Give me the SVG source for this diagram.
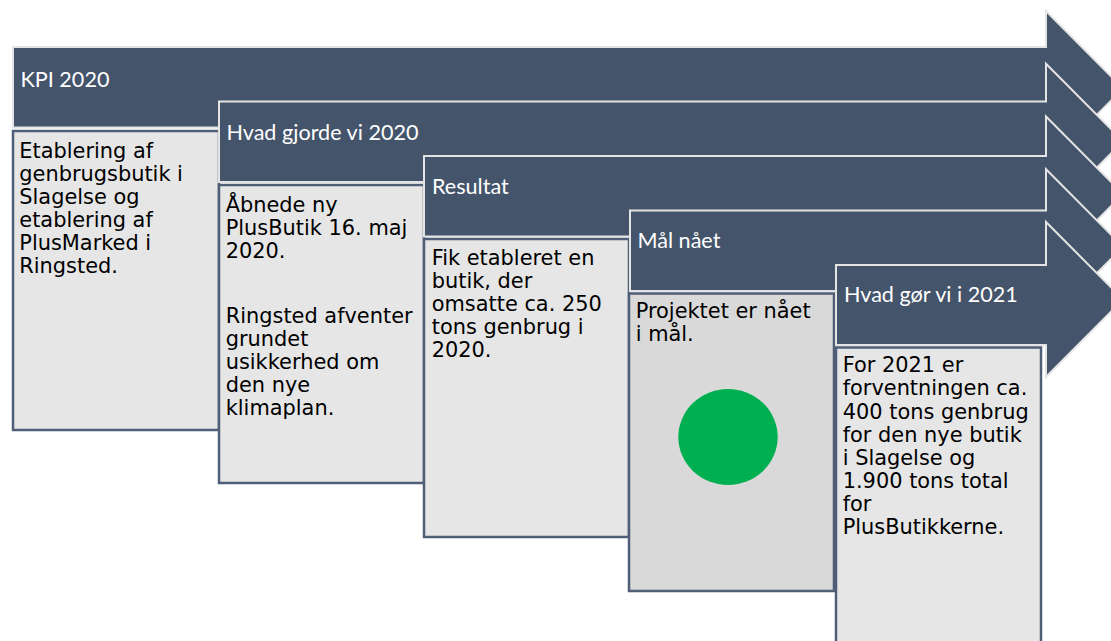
<svg xmlns="http://www.w3.org/2000/svg" width="1111" height="641" viewBox="0 0 1111 641">
<style>
.arrow{fill:#44546a;stroke:#e4e4e4;stroke-width:2;stroke-linejoin:miter}
.box{fill:#e6e6e6;stroke:#4f5f77;stroke-width:2.5}
.box4{fill:#d9d9d9}
.hdr{font-family:Lato,"Liberation Sans",sans-serif;font-size:21.6px;fill:#ffffff}
.txt{font-family:"DejaVu Sans","Liberation Sans",sans-serif;font-size:20.9px;fill:#000000}
</style>
<rect width="1111" height="641" fill="#ffffff"/>
<g id="step1">
<path class="arrow" d="M13,47 H1046 V11 L1123,88.5 L1046,166 V127.5 H13 Z"/>
<text class="hdr" x="20.5" y="86.5">KPI 2020</text>
<rect class="box" x="13" y="131" width="206" height="299"/>
<text class="txt" x="19.3"><tspan x="19.3" y="157.7">Etablering af</tspan><tspan x="19.3" y="180.8">genbrugsbutik i</tspan><tspan x="19.3" y="203.9">Slagelse og</tspan><tspan x="19.3" y="227">etablering af</tspan><tspan x="19.3" y="250.1">PlusMarked i</tspan><tspan x="19.3" y="273.2">Ringsted.</tspan></text>
</g>
<g id="step2">
<path class="arrow" d="M219,101.5 H1046 V63.75 L1123,141.25 L1046,218.75 V182 H219 Z"/>
<text class="hdr" x="226.5" y="140">Hvad gjorde vi 2020</text>
<rect class="box" x="219" y="185" width="205" height="298"/>
<text class="txt"><tspan x="225.7" y="211.7">Åbnede ny</tspan><tspan x="225.7" y="234.8">PlusButik 16. maj</tspan><tspan x="225.7" y="257.9">2020.</tspan><tspan x="225.7" y="322.7">Ringsted afventer</tspan><tspan x="225.7" y="345.8">grundet</tspan><tspan x="225.7" y="368.9">usikkerhed om</tspan><tspan x="225.7" y="392">den nye</tspan><tspan x="225.7" y="415.1">klimaplan.</tspan></text>
</g>
<g id="step3">
<path class="arrow" d="M424,156 H1046 V116.5 L1123,194 L1046,271.5 V236.5 H424 Z"/>
<text class="hdr" x="432" y="193.5">Resultat</text>
<rect class="box" x="424" y="239" width="205" height="298"/>
<text class="txt"><tspan x="431.7" y="265">Fik etableret en</tspan><tspan x="431.7" y="288.1">butik, der</tspan><tspan x="431.7" y="311.2">omsatte ca. 250</tspan><tspan x="431.7" y="334.3">tons genbrug i</tspan><tspan x="431.7" y="357.4">2020.</tspan></text>
</g>
<g id="step4">
<path class="arrow" d="M630,210.5 H1046 V169.25 L1123,246.75 L1046,324.25 V291 H630 Z"/>
<text class="hdr" x="637.5" y="248">Mål nået</text>
<rect class="box box4" x="629" y="293.5" width="205" height="297.5"/>
<text class="txt"><tspan x="635.7" y="318.3">Projektet er nået</tspan><tspan x="635.7" y="341.4">i mål.</tspan></text>
<ellipse cx="728" cy="437" rx="49.7" ry="48" fill="#00b050"/>
</g>
<g id="step5">
<path class="arrow" d="M836,265 H1046 V222 L1123,299.5 L1046,377 V345 H836 Z"/>
<text class="hdr" x="844" y="301.5">Hvad gør vi i 2021</text>
<rect class="box" x="836" y="347.5" width="205" height="300"/>
<text class="txt"><tspan x="842.7" y="372.3">For 2021 er</tspan><tspan x="842.7" y="395.4">forventningen ca.</tspan><tspan x="842.7" y="418.5">400 tons genbrug</tspan><tspan x="842.7" y="441.6">for den nye butik</tspan><tspan x="842.7" y="464.7">i Slagelse og</tspan><tspan x="842.7" y="487.8">1.900 tons total</tspan><tspan x="842.7" y="510.9">for</tspan><tspan x="842.7" y="534">PlusButikkerne.</tspan></text>
</g>
<g id="connectors"></g>
</svg>
